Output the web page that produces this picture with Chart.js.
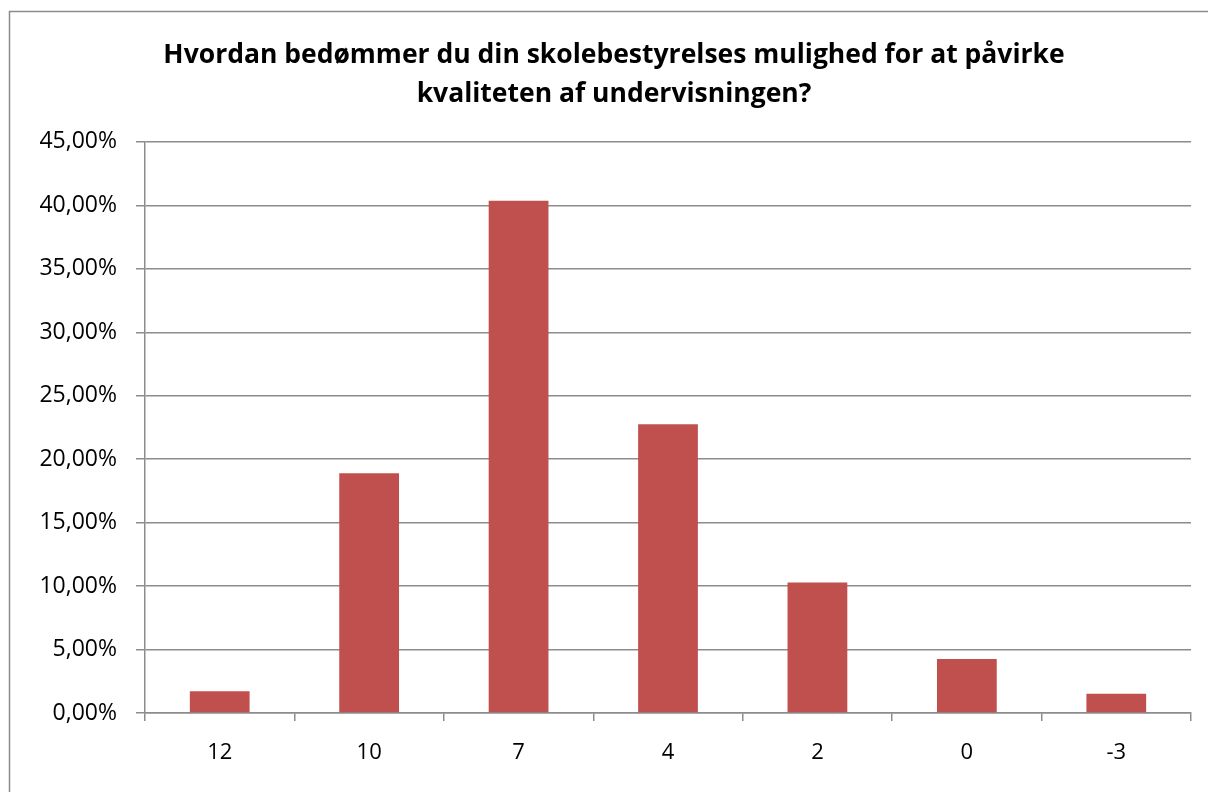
<!DOCTYPE html>
<html>
<head>
<meta charset="utf-8">
<title>Skolebestyrelse</title>
<script src="https://cdn.jsdelivr.net/npm/chart.js@4.4.1/dist/chart.umd.min.js"></script>
<style>
  html, body { margin: 0; padding: 0; background: #fff; }
  #wrap { position: absolute; left: 0; top: 0; width: 1208px; height: 792px; }
</style>
</head>
<body>
<div id="wrap"><canvas id="chart" width="1208" height="792"></canvas></div>
<script>
// grades (Danish 7-point scale) and share of answers in percent
const grades = ['12', '10', '7', '4', '2', '0', '-3'];
const shares = [1.71, 18.89, 40.36, 22.76, 10.29, 4.26, 1.52];
const titleLines = ['Hvordan bedømmer du din skolebestyrelses mulighed for at påvirke', 'kvaliteten af undervisningen?'];

const FONT = '"Open Sans", Lato, sans-serif';
const GRID = '#8c8c8c';

// outer frame of the chart, like the spreadsheet chart box
const framePlugin = {
    id: 'frame',
    beforeDraw(chart) {
        const ctx = chart.ctx;
        ctx.save();
        ctx.strokeStyle = '#8c8c8c';
        ctx.lineWidth = 1.5;
        ctx.strokeRect(9.5, 11.5, 1220, 800);
        ctx.restore();
    }
};

new Chart(document.getElementById('chart'), {
    type: 'bar',
    data: {
        labels: grades,
        datasets: [{
            data: shares,
            backgroundColor: '#C0504D',
            borderWidth: 0,
            barPercentage: 0.4,
            categoryPercentage: 1.0
        }]
    },
    options: {
        responsive: false,
        animation: false,
        layout: { padding: { left: 37, right: 17, top: 0, bottom: 0 } },
        plugins: {
            legend: { display: false },
            tooltip: { enabled: false },
            title: {
                display: true,
                text: titleLines,
                color: '#000',
                font: { family: FONT, size: 26.5, weight: 'bold', lineHeight: 1.47 },
                padding: { top: 36, bottom: 28 }
            }
        },
        scales: {
            x: {
                offset: true,
                grid: {
                    display: true,
                    offset: true,
                    drawOnChartArea: false,
                    drawTicks: true,
                    tickLength: 8,
                    color: GRID,
                    lineWidth: 1.5
                },
                border: { color: GRID, width: 1.5 },
                ticks: {
                    color: '#000',
                    font: { family: FONT, size: 22 },
                    padding: 19
                },
                afterFit(scale) { scale.height = 79; }
            },
            y: {
                min: 0,
                max: 45,
                grid: {
                    color: GRID,
                    lineWidth: 1.5,
                    drawTicks: true,
                    tickLength: 9
                },
                border: { color: GRID, width: 1.5 },
                ticks: {
                    stepSize: 5,
                    color: '#000',
                    font: { family: FONT, size: 23 },
                    padding: 19,
                    callback: v => v.toFixed(2).replace('.', ',') + '%'
                },
                afterFit(scale) { scale.width = 108; }
            }
        }
    },
    plugins: [framePlugin]
});
</script>
</body>
</html>
